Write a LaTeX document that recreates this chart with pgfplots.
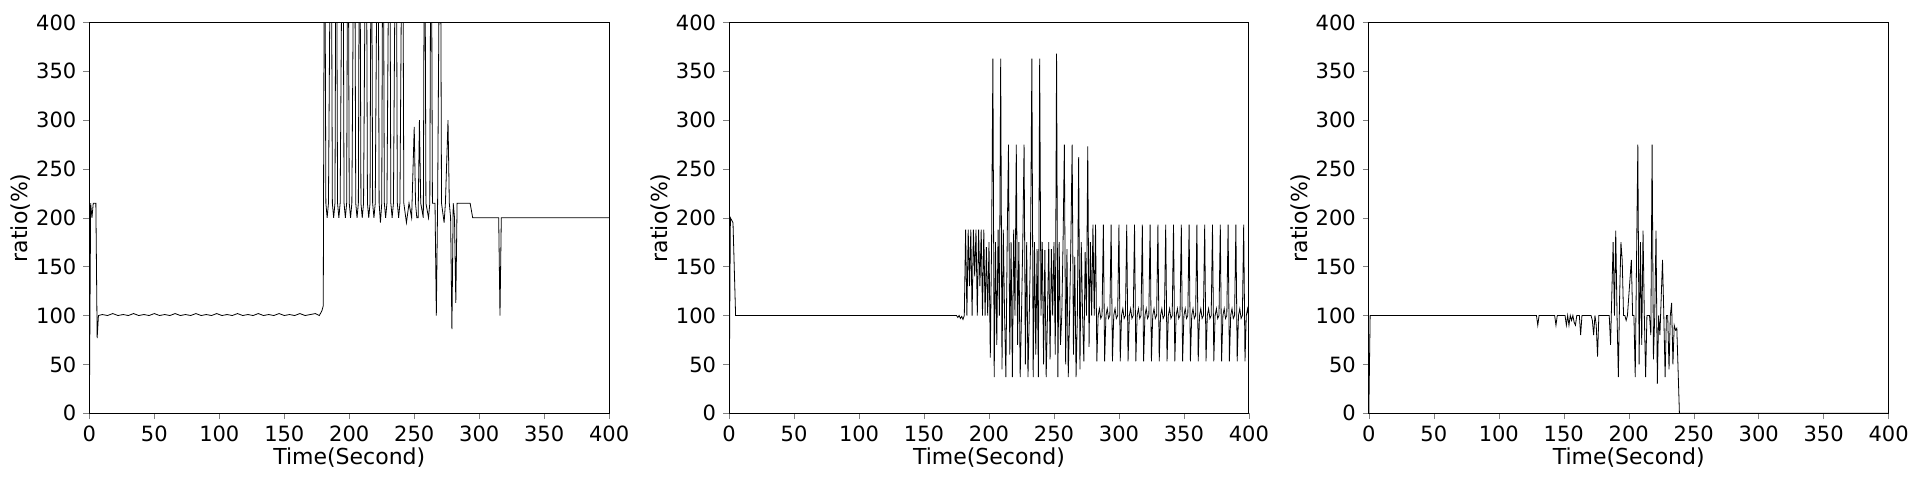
\documentclass[border=0pt]{standalone}
\usepackage{pgfplots}
\pgfplotsset{compat=1.18}
\usepackage{fontspec}
\setmainfont{DejaVu Sans}
\pgfplotsset{every axis/.style={width=260pt,height=195.5pt,scale only axis,
 xmin=0,xmax=400,ymin=0,ymax=400,xtick={0,50,...,400},ytick={0,50,...,400},
 tick align=outside,tick pos=left,major tick length=3pt,
 /pgf/number format/assume math mode=true,
 ticklabel style={font=\fontsize{10.5}{12}\selectfont},
 label style={font=\fontsize{11}{13}\selectfont},
 xlabel={Time(Second)},ylabel={ratio(\%)},
 xlabel style={yshift=4pt},ylabel style={yshift=-4pt},
 cycle list={{black,line width=0.9pt,line join=round,mark=none}}}}
\begin{document}
\begin{tikzpicture}
\draw[white] (-44.5pt,-33.5pt) rectangle (915.5pt,206.5pt);
\begin{axis}[at={(0pt,0pt)}]
\addplot coordinates {(0,0)(1,215)(2,200)(3,215)(5,215)(6,77)(7,100)(10,101)(14,100)(18,102)(22,100)(26,101)(30,100)(34,102)(38,100)(42,101)(46,100)(50,102)(54,100)(58,101)(62,100)(66,102)(70,100)(74,101)(78,100)(82,102)(86,100)(90,101)(94,100)(98,102)(102,100)(106,101)(110,100)(114,102)(118,100)(122,101)(126,100)(130,102)(134,100)(138,101)(142,100)(146,102)(150,100)(154,101)(158,100)(162,102)(166,100)(170,101)(174,102)(177,100)(179,105)(180,110)
(181,600)(182,215)(183,200)(184,215)(186,600)(187,215)(188,200)(189,215)(190,600)(191,215)(192,200)(193,215)(195,600)(196,215)(197,200)(198,215)(199,600)(200,215)(201,200)(202,215)(204,600)(205,215)(206,200)(207,215)(208,600)(209,215)(210,200)(211,215)(213,600)(214,215)(215,200)(216,215)(217,600)(218,215)(219,200)(220,215)(222,600)(223,215)(224,195)(225,215)(226,600)(227,215)(228,200)(229,215)(231,600)(232,215)(233,200)(234,215)(236,600)(237,215)(238,200)(239,215)(241,600)(242,215)(244,195)(246,215)(248,200)(250,293)(251,215)(252,200)(253,200)(254,300)(255,215)(257,200)(258,600)(259,215)(261,200)(262,215)(263,600)(264,215)(266,215)(267,100)(268,215)(270,600)(271,215)(273,195)(274,215)(276,300)(277,215)(278,200)(279,86)(280,215)(281,200)(282,113)(283,215)(290,215)(293,215)(295,200)(315,200)(316,100)(317,200)(400,200)};
\end{axis}
\begin{axis}[at={(320pt,0pt)}]
\addplot coordinates {(0,0)(1,200)(3,195)(5,100)(175,100)(176,98)(177,100)(178,97)(179,99)(180,96)(181,100)
(182,188)(183,100)(184,188)(185,130)(186,188)(187,100)(188,188)(189,140)(190,188)(191,100)(192,188)(193,130)(194,188)(195,100)(196,188)(197,100)(198,170)
(199,100)(200,175)(201,57)(202,175)(203,363)(204,37)(205,175)(206,70)(207,188)(208,100)(209,363)(210,45)(211,188)(212,100)(213,37)(214,175)(215,275)(216,60)(217,175)(218,37)(219,188)(220,100)(221,275)(222,70)(223,175)(224,37)(225,100)(226,175)(227,275)(228,50)(229,175)(230,37)(231,100)(232,175)(233,363)(234,37)(235,175)(236,60)(237,168)(238,37)(239,363)(240,100)(241,175)(242,50)(243,167)(244,37)(245,100)(246,175)(247,55)(248,168)(249,100)(250,175)(251,60)(252,368)(253,37)(254,175)(255,70)(256,100)(257,175)(258,275)(259,50)(260,168)(261,37)(262,100)(263,175)(264,275)(265,60)(266,160)(267,37)(268,100)(269,262)(270,45)(271,175)(272,100)(273,53)(274,165)(275,100)(276,273)(277,68)(278,175)(279,100)(280,193)
(281,100)(282,193)(283,53)(284,100)(285,107)(286,97)
(287,100)(288,193)(289,53)(290,100)(291,107)(292,97)
(293,100)(294,193)(295,53)(296,100)(297,107)(298,97)
(299,100)(300,193)(301,53)(302,100)(303,107)(304,97)
(305,100)(306,193)(307,53)(308,100)(309,107)(310,97)
(311,100)(312,193)(313,53)(314,100)(315,107)(316,97)
(317,100)(318,193)(319,53)(320,100)(321,107)(322,97)
(323,100)(324,193)(325,53)(326,100)(327,107)(328,97)
(329,100)(330,193)(331,53)(332,100)(333,107)(334,97)
(335,100)(336,193)(337,53)(338,100)(339,107)(340,97)
(341,100)(342,193)(343,53)(344,100)(345,107)(346,97)
(347,100)(348,193)(349,53)(350,100)(351,107)(352,97)
(353,100)(354,193)(355,53)(356,100)(357,107)(358,97)
(359,100)(360,193)(361,53)(362,100)(363,107)(364,97)
(365,100)(366,193)(367,53)(368,100)(369,107)(370,97)
(371,100)(372,193)(373,53)(374,100)(375,107)(376,97)
(377,100)(378,193)(379,53)(380,100)(381,107)(382,97)
(383,100)(384,193)(385,53)(386,100)(387,107)(388,97)
(389,100)(390,193)(391,53)(392,100)(393,107)(394,97)
(395,100)(396,193)(397,53)(398,100)(399,107)(400,97)};
\end{axis}
\begin{axis}[at={(640pt,0pt)}]
\addplot coordinates {(0,0)(1,100)(129,100)(130,90)(131,100)(143,100)(144,90)(145,100)(151,100)(152,90)(153,100)(154,90)(155,100)(156,95)(157,100)(158,93)(159,90)(160,100)(162,100)(163,80)(164,100)(171,100)(172,95)(173,80)(174,100)(175,90)(176,58)(177,100)(185,100)(186,70)(188,175)(189,100)(190,187)(191,100)(192,37)(193,120)(194,175)(195,156)(196,100)(197,100)(198,95)(199,100)(202,157)(203,100)(204,100)(205,37)(207,275)(208,50)(209,175)(210,70)(211,187)(212,100)(213,37)(214,100)(215,100)(216,100)(217,80)(218,275)(219,55)(220,100)(221,187)(222,30)(223,100)(224,80)(226,157)(227,100)(228,37)(229,100)(230,100)(231,45)(232,100)(233,113)(234,50)(235,90)(236,85)(237,87)(239,0)(400,0)};
\end{axis}
\end{tikzpicture}
\end{document}
